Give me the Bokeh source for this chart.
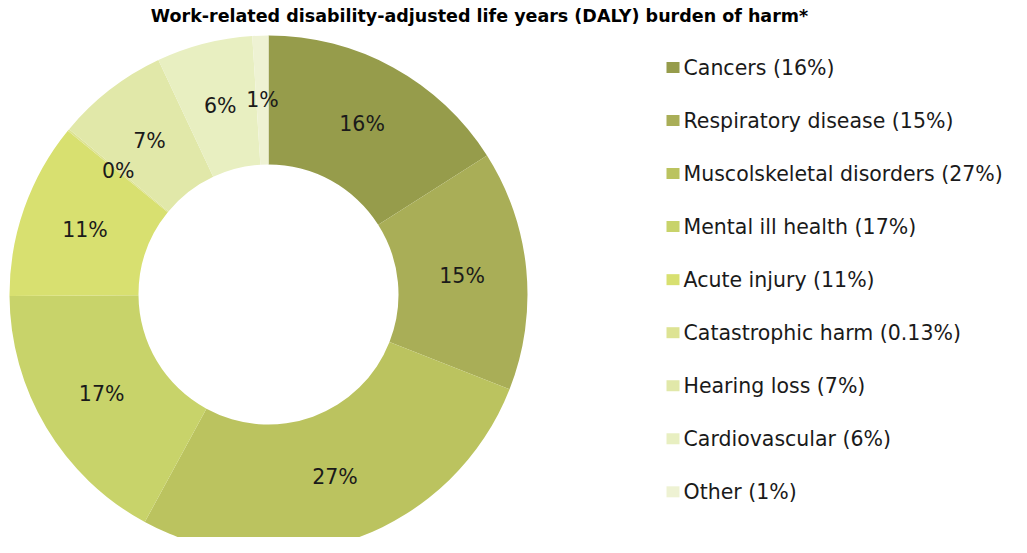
import math
from bokeh.plotting import figure
from bokeh.models import Range1d, ColumnDataSource
from bokeh.core.properties import value
from bokeh.embed import file_html
from bokeh.resources import INLINE

title = "Work-related disability-adjusted life years (DALY) burden of harm*"
categories = ["Cancers", "Respiratory disease", "Muscolskeletal disorders", "Mental ill health",
              "Acute injury", "Catastrophic harm", "Hearing loss", "Cardiovascular", "Other"]
shares = [16, 15, 27, 17, 11, 0.13, 7, 6, 1]
slice_labels = ["16%", "15%", "27%", "17%", "11%", "0%", "7%", "6%", "1%"]
legend_labels = ["Cancers (16%)", "Respiratory disease (15%)", "Muscolskeletal disorders (27%)",
                 "Mental ill health (17%)", "Acute injury (11%)", "Catastrophic harm (0.13%)",
                 "Hearing loss (7%)", "Cardiovascular (6%)", "Other (1%)"]
colors = ["#969C4B", "#A9AE57", "#BBC35F", "#C8D36A", "#D8E070", "#DDE393", "#E1E8A9", "#E8EFC1", "#EEF2D3"]

W, H = 1011, 537
FONT = "DejaVu Sans"

def py(y):  # picture y -> data y
    return H - y

p = figure(width=W, height=H, output_backend="svg", toolbar_location=None,
           x_range=Range1d(0, W), y_range=Range1d(0, H),
           min_border=0)
p.axis.visible = False
p.grid.visible = False
p.outline_line_color = None
p.background_fill_color = "white"
p.border_fill_color = "white"

cx, cy = 268, py(294)
r_out, r_in = 259, 130
total = sum(shares)
starts, ends, lx, ly = [], [], [], []
cum = 0.0
for s in shares:
    a0 = cum / total
    a1 = (cum + s) / total
    starts.append(math.pi / 2 - 2 * math.pi * a1)
    ends.append(math.pi / 2 - 2 * math.pi * a0)
    mid = (a0 + a1) / 2
    rm = (r_out + r_in) / 2
    lx.append(cx + rm * math.sin(2 * math.pi * mid))
    ly.append(cy + rm * math.cos(2 * math.pi * mid))
    cum += s

src = ColumnDataSource(dict(start=starts, end=ends, color=colors, lx=lx, ly=ly, lab=slice_labels))
p.annular_wedge(x=cx, y=cy, inner_radius=r_in, outer_radius=r_out, start_angle="start", end_angle="end",
                direction="anticlock", fill_color="color", line_color=None, source=src)
p.text(x="lx", y="ly", text="lab", source=src, text_align="center", text_baseline="middle",
       text_font=value(FONT), text_font_size="20.5px", text_color="#1a1a1a")

# legend
ys = [py(67 + i * 53.04) for i in range(len(categories))]
lsrc = ColumnDataSource(dict(y=ys, color=colors, lab=legend_labels))
p.rect(x=672.5, y="y", width=13, height=11, fill_color="color", line_color=None, source=lsrc)
p.text(x=683, y="y", text="lab", source=lsrc, text_align="left", text_baseline="middle",
       text_font=value(FONT), text_font_size="20.5px", text_color="#1a1a1a")

p.text(x=[479], y=[py(15)], text=[title], text_align="center", text_baseline="middle",
       text_font=value(FONT), text_font_size="17.5px", text_font_style="bold", text_color="#000000")

open("out.html", "w").write(file_html(p, INLINE))
